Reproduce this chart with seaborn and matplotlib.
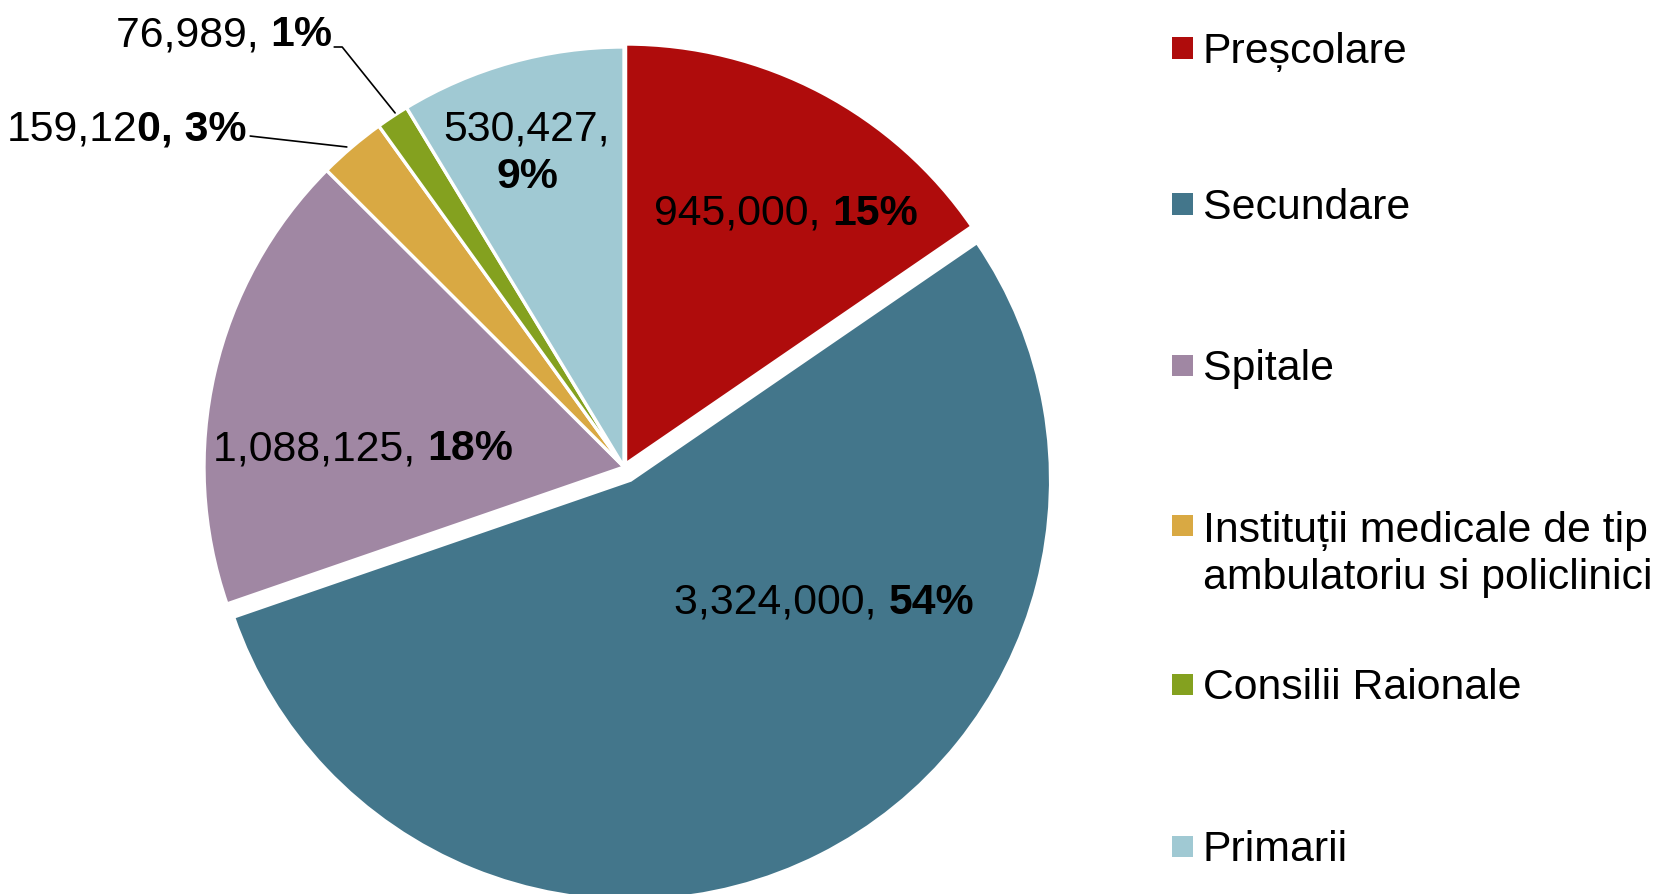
import matplotlib
matplotlib.use("Agg")
import matplotlib.pyplot as plt
from matplotlib.patches import Rectangle
from matplotlib.transforms import offset_copy
import seaborn as sns

# ---- data ----
categories = ["Preșcolare", "Secundare", "Spitale",
              "Instituții medicale de tip\nambulatoriu si policlinici",
              "Consilii Raionale", "Primarii"]
values = [945000, 3324000, 1088125, 159120, 76989, 530427]
label_regular = ["945,000, ", "3,324,000, ", "1,088,125, ", "159,12", "76,989, ", "530,427,"]
label_bold = ["15%", "54%", "18%", "0, 3%", "1%", "9%"]
colors = ["#AF0C0C", "#43768B", "#A087A3", "#D9A943", "#84A11F", "#A0C9D3"]

# ---- style ----
sns.set_style("white")
plt.rcParams['font.family'] = ['Liberation Sans', 'DejaVu Sans']
plt.rcParams['text.color'] = 'black'
FS = 30.8
DY = -4  # vertical nudge (dots) so text optical centre matches

W, H = 1658, 894
fig = plt.figure(figsize=(W / 100, H / 100), dpi=100)
ax = fig.add_axes([0, 0, 1, 1])

explode = [0.008, 0.035, 0, 0, 0, 0]
ax.pie(values, colors=colors, startangle=90, counterclock=False,
       explode=explode, radius=1,
       wedgeprops=dict(edgecolor="white", linewidth=2.4))

R = 420.0
cx, cy_top = 624, 467
cy = H - cy_top
ax.set_xlim(-cx / R, (W - cx) / R)
ax.set_ylim(-cy / R, (H - cy) / R)
ax.set_aspect('auto')
ax.axis('off')

renderer = fig.canvas.get_renderer()


def text_width(s, weight):
    t = fig.text(0, 0, s, fontsize=FS, fontweight=weight)
    w = t.get_window_extent(renderer).width
    t.remove()
    return w


def mixed_label(x, y, reg, bold, align="center"):
    wr = text_width(reg, "normal") if reg else 0
    wb = text_width(bold, "bold") if bold else 0
    total = wr + wb
    start = -total / 2 if align == "center" else -total
    if reg:
        ax.text(x, y, reg, fontsize=FS, fontweight="normal", ha="left", va="center",
                color="black",
                transform=offset_copy(ax.transData, fig=fig, x=start, y=DY, units="dots"))
    if bold:
        ax.text(x, y, bold, fontsize=FS, fontweight="bold", ha="left", va="center",
                color="black",
                transform=offset_copy(ax.transData, fig=fig, x=start + wr, y=DY, units="dots"))


# label placement (layout)
mixed_label(0.386, 0.612, label_regular[0], label_bold[0])
mixed_label(0.476, -0.314, label_regular[1], label_bold[1])
mixed_label(-0.621, 0.052, label_regular[2], label_bold[2])
mixed_label(-0.898, 0.812, label_regular[3], label_bold[3], align="right")
mixed_label(-0.694, 1.038, label_regular[4], label_bold[4], align="right")
mixed_label(-0.231, 0.812, label_regular[5], "")
mixed_label(-0.231, 0.700, "", label_bold[5])

# leader lines
ax.plot([-0.890, -0.660], [0.788, 0.762], color="black", lw=1.2)
ax.plot([-0.690, -0.671, -0.545], [1.0, 1.0, 0.843], color="black", lw=1.2)

# ---- legend (manual) ----
leg_y = [48, 204, 365, 525, 684, 846]
patch_x, patch_w = 1172, 21
text_x = 1203
line_h = 51
for lab, col, yc in zip(categories, colors, leg_y):
    fig.add_artist(Rectangle((patch_x / W, 1 - (yc + patch_w / 2) / H), patch_w / W, patch_w / H,
                             transform=fig.transFigure, facecolor=col, edgecolor="none"))
    nlines = lab.count("\n") + 1
    ymid = yc + (nlines - 1) * line_h / 2 - DY
    fig.text(text_x / W, 1 - ymid / H, lab, fontsize=FS, ha="left", va="center",
             linespacing=1.2, color="black")

fig.savefig("out.png", dpi=100)
